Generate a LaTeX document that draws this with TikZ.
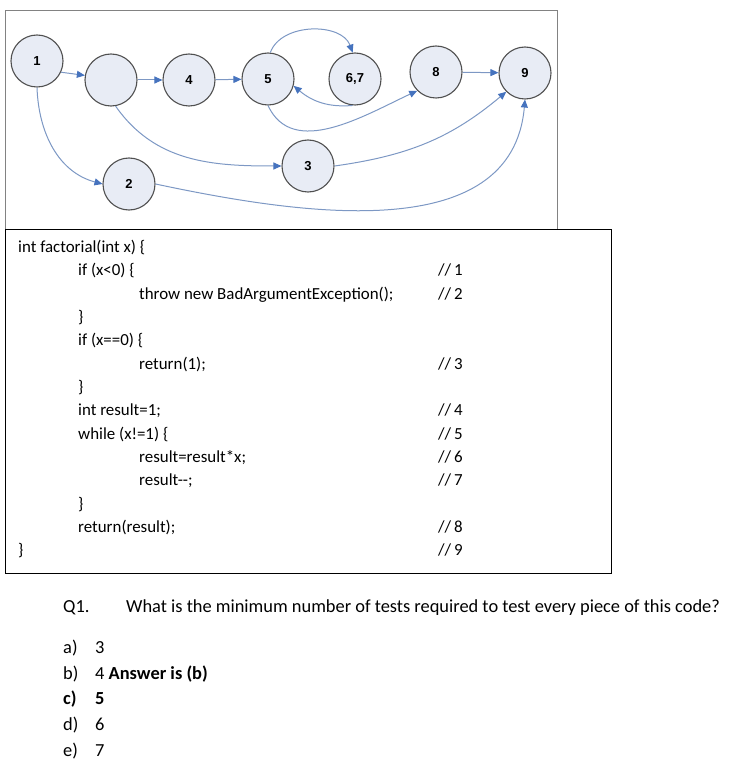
\documentclass[tikz,border=0pt]{standalone}
\usepackage{fontspec}
\setmainfont{Carlito}
\newfontfamily\arialfont{Liberation Sans}
\usetikzlibrary{arrows.meta}
\definecolor{nodefill}{RGB}{232,236,245}
\definecolor{nodeborder}{RGB}{80,80,80}
\definecolor{edgecol}{RGB}{125,152,196}
\definecolor{tipcol}{RGB}{70,115,190}
\definecolor{boxgray}{RGB}{130,130,130}
\tikzset{
  cfgnode/.style={circle, draw=nodeborder, line width=1.1pt, fill=nodefill, minimum size=52pt, inner sep=0pt, font=\arialfont\bfseries\fontsize{13}{15}\selectfont},
  edge/.style={draw=edgecol, line width=1pt, -{Triangle[length=8pt,width=7pt,fill=tipcol,color=tipcol]}},
  codetxt/.style={anchor=base west, inner sep=0pt, font=\fontsize{16.9}{19}\selectfont},
  qtxt/.style={anchor=base west, inner sep=0pt, font=\fontsize{18.4}{21}\selectfont},
}
\newcommand{\optlbl}[1]{\makebox[32pt][l]{#1}}
\begin{document}
\begin{tikzpicture}[x=1pt,y=1pt]
\useasboundingbox (0,0) rectangle (730,-767);
% boxes
\draw[boxgray, line width=1pt] (5,-229) -- (5,-11) -- (557,-11) -- (557,-229);
\draw[black, line width=1pt] (5,-229) rectangle (611,-573);
% nodes
\node[cfgnode] (n1) at (37,-61) {1};
\node[cfgnode] (n0) at (111,-80) {};
\node[cfgnode] (n4) at (189,-80) {4};
\node[cfgnode] (n5) at (268,-79) {5};
\node[cfgnode] (n67) at (355,-79) {6,7};
\node[cfgnode] (n8) at (436,-72) {8};
\node[cfgnode] (n9) at (525,-73) {9};
\node[cfgnode] (n3) at (308,-166) {3};
\node[cfgnode] (n2) at (129,-184) {2};
% edges
\draw[edge] (n1.-25) -- (n0.170);
\draw[edge] (n0) -- (n4);
\draw[edge] (n4) -- (n5);
\draw[edge] (n8) -- (n9);
\draw[edge] (n5.85) to[out=70,in=110] (n67.95);
\draw[edge] (n67.-95) to[out=185,in=-40] (n5.-15);
\draw[edge] (n5.-90) to[out=-65,in=205] (n8.225);
\draw[edge] (n0.-80) to[out=-55,in=180] (n3.west);
\draw[edge] (n3.east) to[out=8,in=220] (n9.225);
\draw[edge] (n1.south) to[out=-88,in=165] (n2.west);
\draw[edge] (n2.east) to[out=-12,in=-95] (n9.-90);
% code
\node[codetxt] (c1) at (18,-252) {int factorial(int x) \{};
\node[codetxt] (c2) at (78,-275.5) {if (x<0) \{};
\node[codetxt] (c3) at (139,-299) {throw new BadArgumentException();};
\node[codetxt] (c4) at (78,-322) {\}};
\node[codetxt] (c5) at (78,-345.5) {if (x==0) \{};
\node[codetxt] (c6) at (139,-369) {return(1);};
\node[codetxt] (c7) at (78,-392) {\}};
\node[codetxt] (c8) at (78,-415.5) {int result=1;};
\node[codetxt] (c9) at (78,-439) {while (x!=1) \{};
\node[codetxt] (c10) at (139,-462) {result=result*x;};
\node[codetxt] (c11) at (139,-485.5) {result-{}-;};
\node[codetxt] (c12) at (78,-509) {\}};
\node[codetxt] (c13) at (78,-532) {return(result);};
\node[codetxt] (c14) at (18,-555.5) {\}};
\node[codetxt] (k1) at (438,-275.5) {//\,1};
\node[codetxt] (k2) at (438,-299) {//\,2};
\node[codetxt] (k3) at (438,-369) {//\,3};
\node[codetxt] (k4) at (438,-415.5) {//\,4};
\node[codetxt] (k5) at (438,-439) {//\,5};
\node[codetxt] (k6) at (438,-462) {//\,6};
\node[codetxt] (k7) at (438,-485.5) {//\,7};
\node[codetxt] (k8) at (438,-532) {//\,8};
\node[codetxt] (k9) at (438,-555.5) {//\,9};
% question
\node[qtxt] (q1) at (63,-612) {Q1.};
\node[qtxt] (q) at (126,-612) {What is the minimum number of tests required to test every piece of this code?};
\node[qtxt] (a) at (63,-653) {\optlbl{a)}3};
\node[qtxt] (b) at (63,-679) {\optlbl{b)}4 \textbf{Answer is (b)}};
\node[qtxt] (c) at (63,-704.5) {\textbf{\optlbl{c)}5}};
\node[qtxt] (d) at (63,-730) {\optlbl{d)}6};
\node[qtxt] (e) at (63,-756) {\optlbl{e)}7};
\end{tikzpicture}
\end{document}
